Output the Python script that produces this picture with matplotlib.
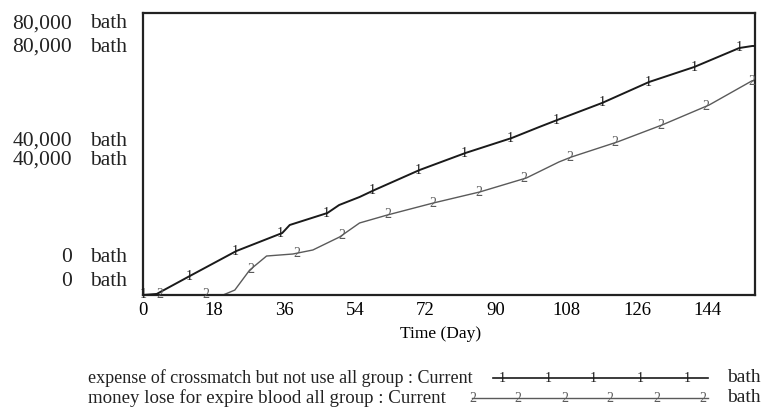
import numpy as np
import matplotlib
matplotlib.use("Agg")
import matplotlib.pyplot as plt
from matplotlib.lines import Line2D

plt.rcParams['font.family'] = ['Liberation Serif', 'DejaVu Serif']

# ---- data ----
days_crossmatch = [0, 3.5, 12.4, 23.8, 35.5, 37.4, 47, 50, 55.2, 59, 70.5, 82.2, 94,
                   101, 105.6, 117, 129, 140.5, 152, 155.3, 156]
expense_crossmatch = [0, 300, 5670, 12480, 17590, 19860, 23260, 25530, 27800, 29790,
                      35460, 40290, 44540, 47660, 49650, 54470, 60430, 64680, 70070,
                      70640, 70640]
days_expire = [0, 20.4, 23.4, 27.2, 31.5, 38.2, 43.3, 50.1, 55.2, 62.3, 74, 85.8,
               97.7, 106, 109.2, 120.9, 132.3, 144.3, 155.3, 156]
money_expire = [0, 0, 1400, 7090, 11060, 11630, 12770, 16450, 20430, 22700, 26100,
                29220, 33190, 37730, 39150, 43410, 48230, 53900, 60800, 60800]

x_ticks = [0, 18, 36, 54, 72, 90, 108, 126, 144]
y_tick_labels = ["80,000", "40,000", "0"]
unit = "bath"
series_names = ["expense of crossmatch but not use all group : Current",
                "money lose for expire blood all group : Current"]

W, H = 765, 412
fig = plt.figure(figsize=(W / 100, H / 100), dpi=100)

def fx(px):
    return px / W

def fy(py):
    return 1 - py / H

ax = fig.add_axes([fx(143), fy(295), (755 - 143) / W, (295 - 13) / H])
ax.set_xlim(0, 156)
ax.set_ylim(0, 80000)

c1, c2 = "#1a1a1a", "#5a5a5a"
ax.plot(days_crossmatch, expense_crossmatch, color=c1, lw=1.4, zorder=3)
ax.plot(days_expire, money_expire, color=c2, lw=1.0, zorder=2)

# numbered markers along the lines (Vensim style)
m1 = np.arange(0, 156, 11.7)
m2 = np.arange(4.3, 156, 11.6)
for d in m1:
    ax.text(d, np.interp(d, days_crossmatch, expense_crossmatch), "1", fontsize=10,
            ha="center", va="center", color=c1, zorder=4)
for d in m2:
    ax.text(d, np.interp(d, days_expire, money_expire), "2", fontsize=10,
            ha="center", va="center", color=c2, zorder=4)

ax.set_xticks(x_ticks)
ax.set_xticklabels([str(t) for t in x_ticks], fontsize=13.5)
ax.tick_params(axis="x", length=0, pad=5)
ax.set_yticks([])
for s in ax.spines.values():
    s.set_linewidth(1.6)
    s.set_color("#222222")
ax.set_xlabel("Time (Day)", fontsize=12.5, labelpad=3)
ax.xaxis.set_label_coords((441 - 143) / (755 - 143), -(333 - 295) / (295 - 13) + 0.025)

# y-axis labels (two scales, stacked pairs)
label_rows = [(24, 47), (141, 160), (258, 282)]
for lab, rows in zip(y_tick_labels, label_rows):
    for r in rows:
        fig.text(fx(72), fy(r), lab, ha="right", va="center", fontsize=15.5, color="#222222")
        fig.text(fx(90), fy(r), unit, ha="left", va="center", fontsize=15.5, color="#222222")

# legend at the bottom
leg_rows = [378, 398]
leg_sizes = [13, 13.6]
leg_line = [(493, 708), (472, 708)]
leg_marks = [[502, 548, 593, 640, 687], [473, 518, 565, 610, 657, 703]]
for i, (name, row) in enumerate(zip(series_names, leg_rows)):
    fig.text(fx(88), fy(row), name, ha="left", va="center", fontsize=leg_sizes[i], color="#222222")
    x0, x1 = leg_line[i]
    col = c1 if i == 0 else c2
    fig.add_artist(Line2D([fx(x0), fx(x1)], [fy(row), fy(row)], color=col,
                          lw=1.2 if i == 0 else 1.0, transform=fig.transFigure))
    for mx in leg_marks[i]:
        fig.text(fx(mx), fy(row), str(i + 1), ha="center", va="center", fontsize=10, color=col)
    fig.text(fx(727), fy(row), unit, ha="left", va="center", fontsize=14, color="#222222")

fig.savefig("out.png", dpi=100)
